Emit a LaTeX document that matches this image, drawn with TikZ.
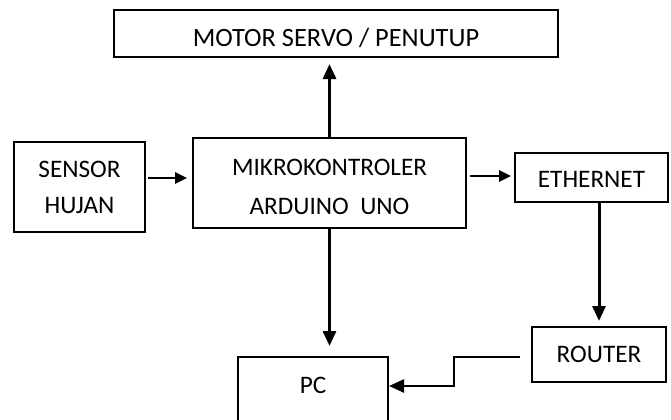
\documentclass[tikz,border=0pt]{standalone}
\usepackage{fontspec}
\setmainfont{Carlito}
\usetikzlibrary{arrows.meta,positioning,calc}
\tikzset{
    every node/.append style={align=center},
    box/.style={rectangle,draw=black,line width=1pt,inner sep=0pt,
        font=\fontsize{12.6}{18}\selectfont},
    arr/.style={-{Triangle[length=7.5pt,width=6.5pt]},line width=1.5pt},
    sarr/.style={-{Triangle[length=6pt,width=5.5pt]},line width=1.3pt},
    lin/.style={-{Triangle[length=7.5pt,width=6.5pt]},line width=1.2pt}
}

\begin{document}
\begin{tikzpicture}[x=0.5pt,y=-0.5pt]
    \useasboundingbox (0,0) rectangle (671,419);
    % blocks
    \node[box,minimum width=222pt,minimum height=23.5pt,text height=14pt,font=\fontsize{13.2}{18}\selectfont] (motor) at (336,33.5) {MOTOR SERVO / PENUTUP};
    \node[box,minimum width=65.5pt,minimum height=45pt]   (sensor)   at (79.5,187)    {SENSOR\\HUJAN};
    \node[box,minimum width=136.5pt,minimum height=45pt,text height=31.5pt]  (mikro) at (329.5,183) {MIKROKONTROLER\\[1.5pt]ARDUINO\ \ UNO};
    \node[box,minimum width=76.5pt,minimum height=24.5pt,text height=10pt] (ethernet) at (591.5,177.5) {ETHERNET};
    \node[box,minimum width=67pt,minimum height=27.5pt]   (router)   at (599,354.5)   {ROUTER};
    \node[box,minimum width=75pt,minimum height=41.5pt,text depth=13.5pt] (pc) at (313,398.5) {PC};

    % connectors
    \draw[sarr,shorten <=1pt,shorten >=2.5pt] ([yshift=4.5pt]sensor.east) -- ([yshift=4.5pt]sensor.east -| mikro.west);
    \draw[sarr,shorten <=1.5pt,shorten >=1.5pt] ([yshift=3.5pt]mikro.east) -- ([yshift=3.5pt]mikro.east -| ethernet.west);
    \draw[arr,shorten >=3pt] (mikro.north) -- (mikro.north |- motor.south);
    \draw[arr,shorten >=5pt] (mikro.south) -- (mikro.south |- pc.north);
    \draw[arr,shorten >=2.5pt] (router.north |- ethernet.south) -- (router.north);
    \draw[lin,shorten <=5.5pt] ([yshift=-1.25pt]router.west) -- ++(-77,0) |- ([yshift=6.25pt]pc.east);
\end{tikzpicture}
\end{document}
